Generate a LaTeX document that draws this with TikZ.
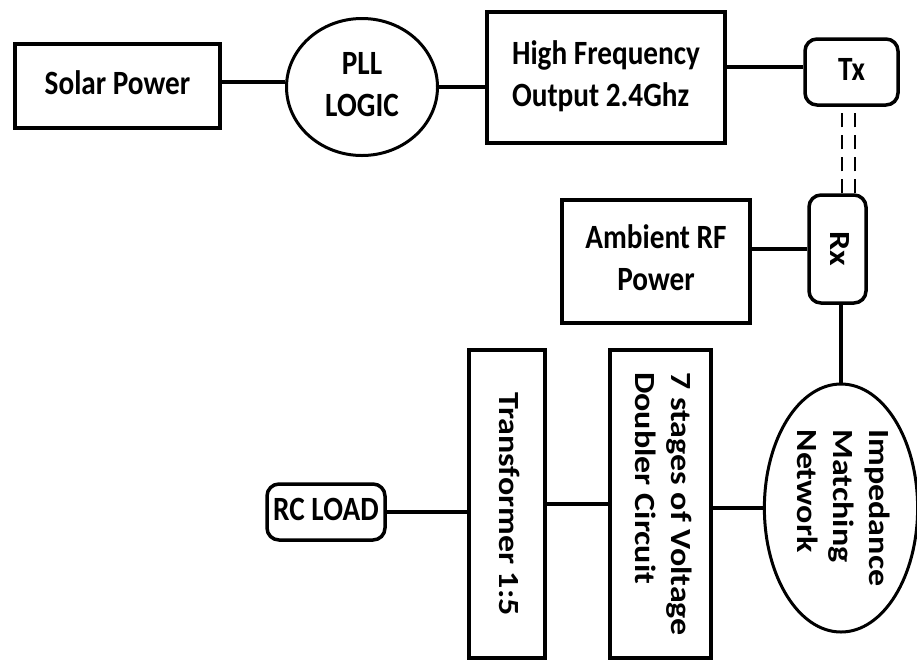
\documentclass[tikz,border=0pt]{standalone}
\usepackage{fontspec}
\setmainfont{Carlito}
\usepackage{tikz}
\usetikzlibrary{positioning,shapes.geometric}
\newcommand{\htext}[2][c]{\scalebox{0.86}[1]{\begin{tabular}{@{}#1@{}}#2\end{tabular}}}
\newcommand{\vtext}[1]{\scalebox{0.86}[1]{\rotatebox{-90}{\begin{tabular}{@{}l@{}}#1\end{tabular}}}}

\begin{document}
\begin{tikzpicture}[x=1pt,y=-1pt,
    blk/.style={draw,line width=4pt,inner sep=0pt},
    rnd/.style={blk,line width=3.5pt,rounded corners=12pt},
    oval/.style={draw,ellipse,line width=3pt,inner sep=0pt},
    wire/.style={line width=4pt},
    font=\fontsize{34}{42}\selectfont\bfseries]
        \useasboundingbox (0,0) rectangle (917,665);
        % top row
        \node[blk,minimum width=205pt,minimum height=84pt] (solar) at (117.5,86) {\htext{Solar Power}};
        \node[oval,minimum width=151pt,minimum height=137pt] (pll) at (362,87) {\htext{PLL\\LOGIC}};
        \node[blk,minimum width=238pt,minimum height=131pt] (hf) at (606,77.5) {\htext[l]{High Frequency\\Output 2.4Ghz}};
        \node[rnd,minimum width=93pt,minimum height=66pt] (tx) at (851.5,72) {\htext{Tx}};
        % receiver side
        \node[rnd,minimum width=57pt,minimum height=108pt] (rx) at (837.5,249) {\vtext{Rx}};
        \node[blk,minimum width=188pt,minimum height=123pt] (amb) at (656,261.5) {\htext{Ambient RF\\Power}};
        \node[oval,minimum width=149pt,minimum height=248pt] (imn) at (841,508) {\vtext{Impedance\\Matching\\Network}};
        \node[blk,minimum width=101pt,minimum height=308pt] (dbl) at (660.5,504) {\vtext{7 stages of Voltage\\Doubler Circuit}};
        \node[blk,minimum width=76pt,minimum height=308pt] (trf) at (507,504) {\vtext{Transformer 1:5}};
        \node[rnd,minimum width=118pt,minimum height=56pt] (load) at (326,512) {\htext{RC LOAD}};
        % links
        \draw[wire] ([yshift=4pt]solar.east) -- ([yshift=4pt]solar.east -| pll.west);
        \draw[wire] (pll.east) -- (pll.east -| hf.west);
        \draw[wire] ([yshift=5pt]tx.west) -- ([yshift=5pt]tx.west -| hf.east);
        \foreach \dx in {4.5,17.5}
            \draw[line width=2.5pt,dash pattern=on 14pt off 8pt] ([xshift=\dx pt]rx.north) -- ([xshift=\dx pt]rx.north |- tx.south);
        \draw[wire] (rx.west) -- (rx.west -| amb.east);
        \draw[wire] (rx.south -| imn.north) -- (imn.north);
        \draw[wire] (imn.west) -- (imn.west -| dbl.east);
        \draw[wire] (dbl.west) -- (dbl.west -| trf.east);
        \draw[wire] (load.east) -- (load.east -| trf.west);
      \end{tikzpicture}
\end{document}
